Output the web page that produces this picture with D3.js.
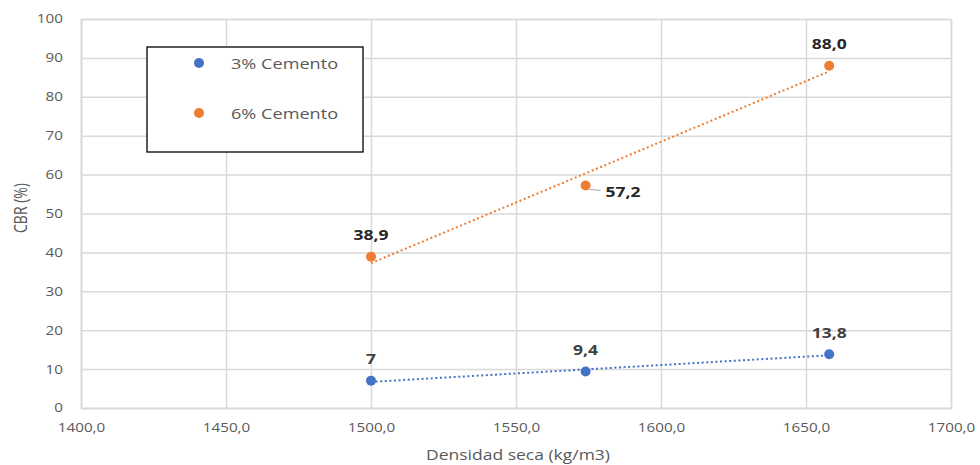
<!DOCTYPE html>
<html><head><meta charset="utf-8">
<script src="https://cdn.jsdelivr.net/npm/d3@7"></script>
<style>body{margin:0;background:#fff}text{font-family:"Open Sans",sans-serif}</style>
</head><body><svg id="c" width="980" height="465"></svg>
<script>
const densities3 = [1500, 1574, 1658];
const cbr3 = [7, 9.4, 13.8];
const labels3 = ["7", "9,4", "13,8"];
const densities6 = [1500, 1574, 1658];
const cbr6 = [38.9, 57.2, 88.0];
const labels6 = ["38,9", "57,2", "88,0"];
const seriesNames = ["3% Cemento", "6% Cemento"];
const xTicks = [1400, 1450, 1500, 1550, 1600, 1650, 1700];
const yTicks = [0, 10, 20, 30, 40, 50, 60, 70, 80, 90, 100];

const colors = ["#4472C4", "#ED7D31"];
const SX = 1.25;
const svg = d3.select("#c");
const L = 81, R = 951, T = 19, B = 408;
const x = d3.scaleLinear().domain([1400, 1700]).range([L, R]);
const y = d3.scaleLinear().domain([0, 100]).range([B, T]);

// grid + axes
const gx = svg.append("g").attr("transform", `translate(0,${B})`)
  .call(d3.axisBottom(x).tickValues(xTicks).tickSize(-(B - T)).tickFormat(d => d3.format(".1f")(d).replace(".", ",")));
gx.select(".domain").attr("stroke", "#d9d9d9").attr("stroke-width", 1.5);
gx.selectAll(".tick line").attr("stroke", "#d9d9d9").attr("stroke-width", 1.5);
gx.selectAll(".tick text").attr("y", 0).attr("dy", "1.95em").attr("font-size", 12.2).attr("fill", "#595959")
  .attr("transform", `scale(${SX},1)`);

const gy = svg.append("g").attr("transform", `translate(${L},0)`)
  .call(d3.axisLeft(y).tickValues(yTicks).tickSize(-(R - L)));
gy.select(".domain").attr("stroke", "#d9d9d9").attr("stroke-width", 1.5);
gy.selectAll(".tick line").attr("stroke", "#d9d9d9").attr("stroke-width", 1.5);
gy.selectAll(".tick text").attr("x", -14.4).attr("font-size", 12.2).attr("fill", "#595959")
  .attr("transform", `scale(${SX},1)`);

function stext(px, py, str, opts) {
  const tr = opts.rotate ? `translate(${px},${py}) scale(${SX},1) rotate(-90)` : `translate(${px},${py}) scale(${SX},1)`;
  const g = svg.append("g").attr("transform", tr);
  g.append("text").text(str).attr("font-size", opts.size).attr("font-weight", opts.weight || "normal")
    .attr("fill", opts.fill || "#595959").attr("text-anchor", opts.anchor || "middle").attr("dominant-baseline", "central");
}

stext(518, 455, "Densidad seca (kg/m3)", {size: 14});
stext(20, 208, "CBR (%)", {size: 14, rotate: true});

// trend lines (linear least squares)
function trend(xs, ys) {
  const mx = d3.mean(xs), my = d3.mean(ys);
  const sxy = d3.sum(xs, (v, i) => (v - mx) * (ys[i] - my));
  const sxx = d3.sum(xs, v => (v - mx) ** 2);
  const m = sxy / sxx, b = my - m * mx;
  const x0 = d3.min(xs), x1 = d3.max(xs);
  return [[x0, m * x0 + b], [x1, m * x1 + b]];
}
const series = [
  {xs: densities3, ys: cbr3, labels: labels3},
  {xs: densities6, ys: cbr6, labels: labels6}
];
series.forEach((s, k) => {
  const t = trend(s.xs, s.ys);
  svg.append("line").attr("x1", x(t[0][0])).attr("y1", y(t[0][1])).attr("x2", x(t[1][0])).attr("y2", y(t[1][1]))
    .attr("stroke", colors[k]).attr("stroke-width", 2).attr("stroke-dasharray", "2,2.6");
  s.xs.forEach((d, i) => {
    svg.append("circle").attr("cx", x(d)).attr("cy", y(s.ys[i])).attr("r", 5).attr("fill", colors[k]);
  });
});
// data labels
series.forEach((s, k) => {
  s.xs.forEach((d, i) => {
    const px = x(d), py = y(s.ys[i]);
    if (k === 1 && i === 1) {
      svg.append("line").attr("x1", px + 4).attr("y1", py + 4).attr("x2", px + 15).attr("y2", py + 5)
        .attr("stroke", "#a6a6a6").attr("stroke-width", 1);
      stext(px + 20, py + 6, s.labels[i], {size: 14, weight: "bold", fill: "#262626", anchor: "start"});
    } else {
      stext(px, py - 22, s.labels[i], {size: 14, weight: "bold", fill: k === 0 ? "#404040" : "#262626"});
    }
  });
});

// legend
svg.append("rect").attr("x", 147).attr("y", 47).attr("width", 216).attr("height", 105)
  .attr("fill", "#fff").attr("stroke", "#000").attr("stroke-width", 1.3);
seriesNames.forEach((n, k) => {
  const ly = 63 + k * 50;
  svg.append("circle").attr("cx", 199).attr("cy", ly).attr("r", 5).attr("fill", colors[k]);
  stext(231, ly, n, {size: 14.5, anchor: "start"});
});
</script></body></html>
